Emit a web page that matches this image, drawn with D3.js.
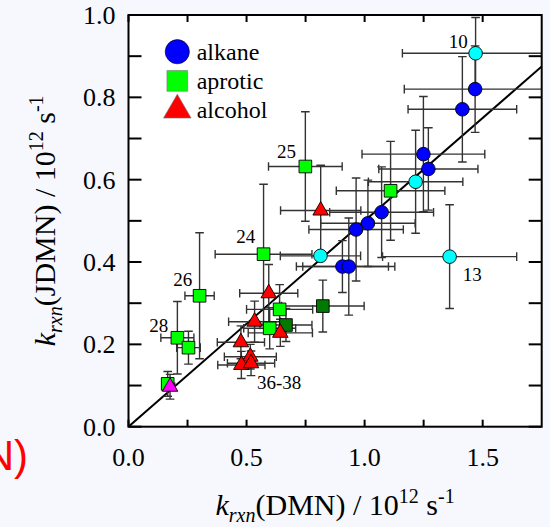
<!DOCTYPE html>
<html>
<head>
<meta charset="utf-8">
<script src="https://cdn.jsdelivr.net/npm/d3@7"></script>
<style>
  body { margin: 0; background: #f7f8fd; }
  svg { display: block; }
  svg text { font-family: "Liberation Serif", "Times New Roman", serif; fill: #000; }
</style>
</head>
<body>
<svg id="plot"></svg>
<script>
// data (units of 10^12 s^-1)
const groups = [
  "alkaneAlt", "alkane", "alkane", "alkane", "alkane", "alkaneAlt", "aprotic",
  "alkane", "alkane", "alkane", "alkane", "alkane", "alkaneAlt", "alkaneAlt",
  "aprotic", "alcohol", "aprotic", "aprotic", "aprotic", "aprotic", "aprotic",
  "alcoholAlt", "aproticAlt", "aproticAlt", "aprotic", "aprotic", "alcohol",
  "alcohol", "alcohol", "alcohol", "alcohol", "alcohol", "alcohol"
];
const kDMN = [
  1.470, 1.468, 1.414, 1.249, 1.270, 1.216, 1.110,
  1.072, 1.014, 0.964, 0.906, 0.933, 0.813, 1.360,
  0.749, 0.814, 0.572, 0.301, 0.207, 0.254, 0.166,
  0.176, 0.823, 0.667, 0.640, 0.598, 0.594,
  0.534, 0.476, 0.516, 0.478, 0.519, 0.643
];
const kJDMN = [
  0.907, 0.820, 0.771, 0.662, 0.626, 0.595, 0.573,
  0.521, 0.494, 0.479, 0.389, 0.389, 0.415, 0.413,
  0.632, 0.525, 0.419, 0.318, 0.216, 0.192, 0.104,
  0.097, 0.293, 0.247, 0.285, 0.239, 0.324,
  0.255, 0.205, 0.170, 0.150, 0.154, 0.228
];
const errDMN = [
  0.31, 0.30, 0.23, 0.26, 0.21, 0.20, 0.23,
  0.22, 0.20, 0.20, 0.195, 0.195, 0.17, 0.284,
  0.156, 0.17, 0.205, 0.062, 0.07, 0.05, 0.02,
  0.02, 0.175, 0.11, 0.14, 0.11, 0.123,
  0.11, 0.10, 0.11, 0.10, 0.10, 0.136
];
const errJDMN = [
  0.087, 0.105, 0.128, 0.14, 0.10, 0.125, 0.12,
  0.11, 0.105, 0.125, 0.063, 0.118, 0.01, 0.126,
  0.133, 0.11, 0.17, 0.153, 0.088, 0.04, 0.03,
  0.03, 0.063, 0.04, 0.06, 0.05, 0.07,
  0.05, 0.04, 0.03, 0.033, 0.03, 0.033
];
const fitSlope = 0.5;

const labelText = ["10", "13", "25", "24", "26", "28", "36-38"];
const labelX = [1.437, 1.416, 0.629, 0.456, 0.189, 0.088, 0.544];
const labelY = [0.920, 0.354, 0.653, 0.445, 0.342, 0.231, 0.091];

const legendNames = ["alkane", "aprotic", "alcohol"];
const xTicks = [0, 0.25, 0.5, 0.75, 1.0, 1.25, 1.5];
const yTicks = [0, 0.1, 0.2, 0.3, 0.4, 0.5, 0.6, 0.7, 0.8, 0.9, 1.0];

const serif = "'Liberation Serif', 'Times New Roman', serif";
const W = 550, H = 527;
const margin = { top: 15, right: 8.3, bottom: 100.3, left: 128.5 };
const width = W - margin.left - margin.right;
const height = H - margin.top - margin.bottom;

const root = d3.select("#plot").attr("width", W).attr("height", H);

// red text fragment cut by the left edge, as in the source figure
root.append("text")
  .attr("x", 28).attr("y", 470)
  .attr("text-anchor", "end")
  .attr("font-family", "'Liberation Sans', Arial, sans-serif")
  .style("font-family", "'Liberation Sans', Arial, sans-serif")
  .style("font-size", "42px")
  .style("fill", "#ff0000")
  .text("N)");

const svg = root.append("g").attr("transform", `translate(${margin.left},${margin.top})`);

const x = d3.scaleLinear().domain([0, 1.75]).range([0, width]);
const y = d3.scaleLinear().domain([0, 1.0]).range([height, 0]);

const color = d3.scaleOrdinal()
  .domain(["alkane", "alkaneAlt", "aprotic", "aproticAlt", "alcohol", "alcoholAlt"])
  .range(["#0000ff", "#00ffff", "#00ff00", "#007a00", "#ff0000", "#ff00ff"]);
const shape = g => g.startsWith("alkane") ? d3.symbolCircle
  : g.startsWith("aprotic") ? d3.symbolSquare : d3.symbolTriangle;
const size = g => g.startsWith("alkane") ? 145 : g.startsWith("aprotic") ? 160 : 105;

svg.append("rect").attr("width", width).attr("height", height).attr("fill", "#fff");

svg.append("clipPath").attr("id", "clip")
  .append("rect").attr("width", width).attr("height", height);

const data = kDMN.map((v, i) => ({
  x: v, y: kJDMN[i], ex: errDMN[i], ey: errJDMN[i], g: groups[i]
}));

const plot = svg.append("g").attr("clip-path", "url(#clip)");

// fit line
const xs = [0, 1.75];
plot.append("line")
  .attr("x1", x(xs[0])).attr("y1", y(fitSlope * xs[0]))
  .attr("x2", x(xs[1])).attr("y2", y(fitSlope * xs[1]))
  .attr("stroke", "#000").attr("stroke-width", 2);

// error bars
const cap = 4.3;
const eb = plot.append("g").attr("stroke", "#333").attr("stroke-width", 1.4).attr("fill", "none");
data.forEach(d => {
  const cx = x(d.x), cy = y(d.y);
  const x0 = x(d.x - d.ex), x1 = x(d.x + d.ex);
  const y0 = y(d.y - d.ey), y1 = y(d.y + d.ey);
  eb.append("path").attr("d",
    `M${x0},${cy}H${x1}M${x0},${cy - cap}V${cy + cap}M${x1},${cy - cap}V${cy + cap}` +
    `M${cx},${y0}V${y1}M${cx - cap},${y0}H${cx + cap}M${cx - cap},${y1}H${cx + cap}`);
});

// markers
plot.selectAll(".pt")
  .data(data)
  .enter()
  .append("path")
  .attr("class", "pt")
  .attr("transform", d => `translate(${x(d.x)},${y(d.y)})`)
  .attr("d", d => d3.symbol().type(shape(d.g)).size(size(d.g))())
  .attr("fill", d => color(d.g))
  .attr("stroke", "#000")
  .attr("stroke-width", 0.9);

// point labels
svg.selectAll(".lbl")
  .data(labelText)
  .enter()
  .append("text")
  .attr("class", "lbl")
  .attr("x", (d, i) => x(labelX[i]))
  .attr("y", (d, i) => y(labelY[i]))
  .attr("text-anchor", (d, i) => i === 0 ? "end" : "start")
  .attr("font-family", serif)
  .style("font-size", "19px")
  .text(d => d);

// ticks inside on all four sides
const ax = svg.append("g").attr("stroke", "#000").attr("stroke-width", 2);
xTicks.forEach(t => {
  ax.append("line").attr("x1", x(t)).attr("x2", x(t)).attr("y1", height).attr("y2", height - 7);
  ax.append("line").attr("x1", x(t)).attr("x2", x(t)).attr("y1", 0).attr("y2", 7);
});
yTicks.forEach(t => {
  ax.append("line").attr("y1", y(t)).attr("y2", y(t)).attr("x1", 0).attr("x2", 13);
  ax.append("line").attr("y1", y(t)).attr("y2", y(t)).attr("x1", width).attr("x2", width - 13);
});

svg.append("rect").attr("width", width).attr("height", height)
  .attr("fill", "none").attr("stroke", "#000").attr("stroke-width", 2);

// tick labels
svg.selectAll(".xl")
  .data(xTicks.filter((t, i) => i % 2 === 0))
  .enter()
  .append("text")
  .attr("x", d => x(d)).attr("y", height + 39)
  .attr("text-anchor", "middle")
  .attr("font-family", serif)
  .style("font-size", "26px")
  .text(d3.format(".1f"));

svg.selectAll(".yl")
  .data(yTicks.filter((t, i) => i % 2 === 0))
  .enter()
  .append("text")
  .attr("x", -13).attr("y", d => y(d) + 9)
  .attr("text-anchor", "end")
  .attr("font-family", serif)
  .style("font-size", "26px")
  .text(d3.format(".1f"));

// axis titles
function title(sel, main) {
  sel.append("tspan").style("font-style", "italic").text("k");
  sel.append("tspan").style("font-style", "italic").style("font-size", "20px").attr("dy", 7).text("rxn");
  sel.append("tspan").attr("dy", -7).text(`(${main}) / 10`);
  sel.append("tspan").style("font-size", "20px").attr("dy", -12).text("12");
  sel.append("tspan").attr("dy", 12).text(" s");
  sel.append("tspan").style("font-size", "20px").attr("dy", -12).text("-1");
}

svg.append("text")
  .attr("x", width / 2).attr("y", height + 88)
  .attr("text-anchor", "middle")
  .attr("font-family", serif)
  .style("font-size", "30px")
  .call(title, "DMN");

svg.append("text")
  .attr("transform", `translate(${55 - margin.left},${height / 2}) rotate(-90)`)
  .attr("text-anchor", "middle")
  .attr("font-family", serif)
  .style("font-size", "30px")
  .call(title, "JDMN");

// legend
const leg = root.append("g");
legendNames.forEach((n, i) => {
  const ly = 51.7 + i * 29.2;
  leg.append("path")
    .attr("transform", `translate(177.3,${ly})`)
    .attr("d", d3.symbol().type(shape(n)).size(n === "alkane" ? 460 : n === "aprotic" ? 430 : 330)())
    .attr("fill", color(n))
    .attr("stroke", n === "alkane" ? "#000" : "#777")
    .attr("stroke-width", 0.6);
  leg.append("text")
    .attr("x", 196.7).attr("y", ly + 8)
    .attr("font-family", serif)
    .style("font-size", "24px")
    .text(n);
});
</script>
</body>
</html>
